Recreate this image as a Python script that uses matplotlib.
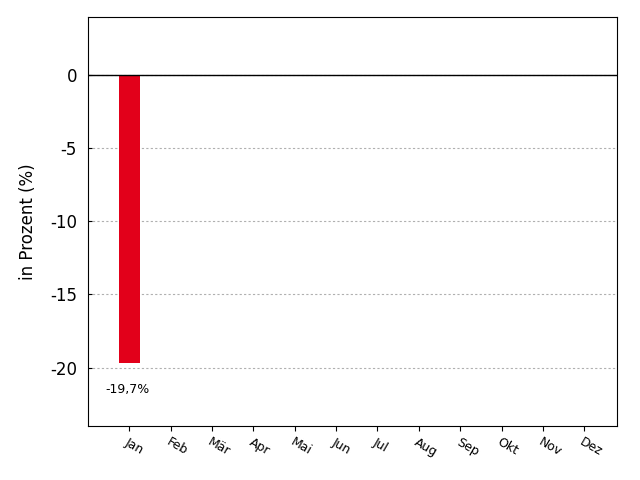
import matplotlib
matplotlib.use("Agg")
import matplotlib.pyplot as plt
import numpy as np

months = ["Jan", "Feb", "Mär", "Apr", "Mai", "Jun", "Jul", "Aug", "Sep", "Okt", "Nov", "Dez"]
values = [-19.7, 0, 0, 0, 0, 0, 0, 0, 0, 0, 0, 0]
labels = ["-19,7%"]
yticks = [0, -5, -10, -15, -20]

fig = plt.figure(figsize=(6.4, 4.8), dpi=100)
ax = fig.add_axes([0.1375, 0.1125, 0.827, 0.853])

x = np.arange(len(months))
ax.bar(x, values, width=0.5, color="#e2001a", zorder=3)
ax.axhline(0, color="black", linewidth=1, zorder=4)

for i, lab in enumerate(labels):
    ax.text(x[i] - 0.05, values[i] - 1.8, lab, ha="center", va="center", fontsize=9)

ax.set_xlim(-1.0, 11.8)
ax.set_ylim(-24, 4)
ax.set_yticks(yticks)
ax.set_yticklabels([str(v) for v in yticks], fontsize=12)
ax.yaxis.grid(True, linestyle=(0, (2, 2)), color="#b0b0b0", linewidth=0.8)
ax.set_axisbelow(True)
ax.tick_params(axis="y", direction="in", length=3, pad=8)
ax.set_xticks(x)
ax.set_xticklabels(months, rotation=-30, fontsize=9, ha="left", rotation_mode="anchor")
ax.set_ylabel("in Prozent (%)", fontsize=12)
ax.yaxis.set_label_coords(-0.097, 0.5)

fig.savefig("out.png", dpi=100)
